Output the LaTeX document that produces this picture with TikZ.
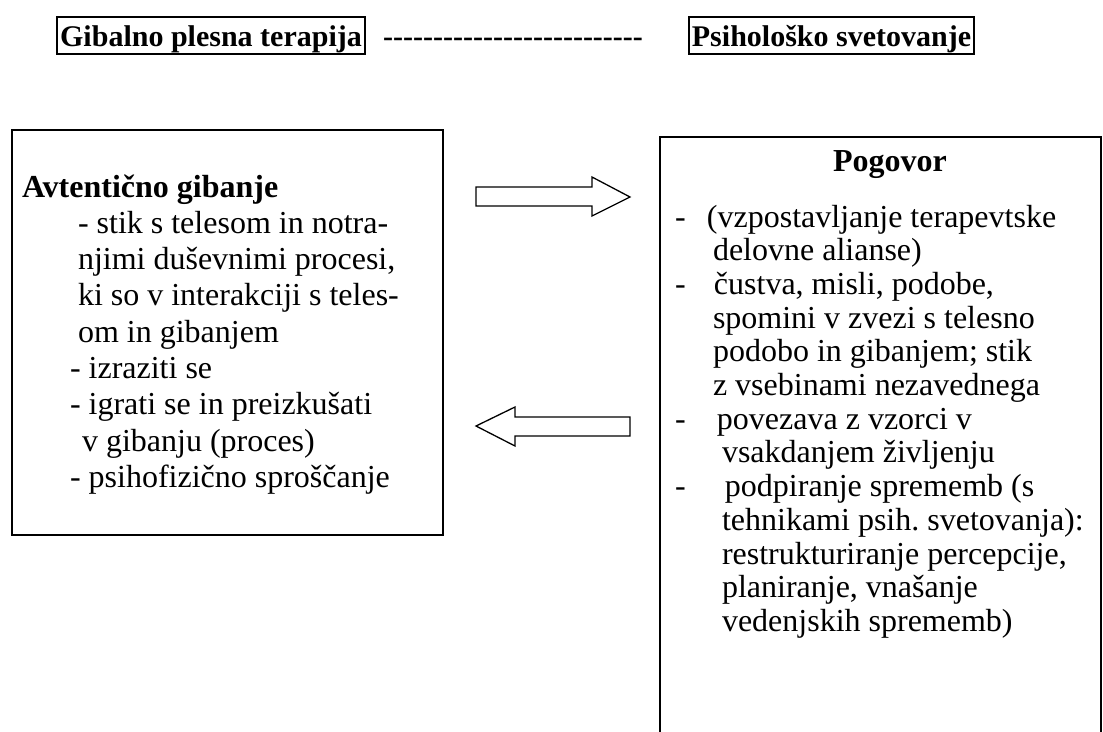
\documentclass[tikz,border=0pt]{standalone}
\usepackage{fontspec}
\setmainfont{Liberation Serif}
\frenchspacing
\begin{document}
\begin{tikzpicture}[x=1pt,y=-1pt,
  hdr/.style={draw, line width=2pt, font=\fontsize{30}{36}\selectfont\bfseries,
    text height=29.7pt, text depth=7.3pt, inner ysep=0pt, inner xsep=3pt, anchor=base},
  hdrtext/.style={font=\fontsize{30}{36}\selectfont\bfseries, inner sep=0pt, anchor=base west},
  body/.style={font=\fontsize{32}{36}\selectfont, anchor=base west, inner sep=0pt, outer sep=0pt},
  bodyhead/.style={body, font=\fontsize{32}{36}\selectfont\bfseries},
  frame/.style={line width=2pt},
  blockarrow/.style={draw, line width=1.3pt, fill=white, line join=miter}]
\useasboundingbox[fill=white] (0,0) rectangle (1103,731);

% heading line
\node[hdr] (gpt) at (211,46.7) {Gibalno plesna terapija};
\node[hdrtext] (dashes) at (383,46.7) {-{}-{}-{}-{}-{}-{}-{}-{}-{}-{}-{}-{}-{}-{}-{}-{}-{}-{}-{}-{}-{}-{}-{}-{}-{}-{}};
\node[hdr] (ps) at (831.5,46.7) {Psihološko svetovanje};

% left box: authentic movement
\node[draw, frame, minimum width=431pt, minimum height=405pt, inner sep=0pt, outer sep=0pt,
  anchor=north west] (lbox) at (12,130) {};
\node[bodyhead] (l1) at (22,197) {Avtentično gibanje};
\node[body] (l2) at (78,233.3) {- stik s telesom in notra-};
\node[body] (l3) at (78,269.6) {njimi duševnimi procesi,};
\node[body] (l4) at (78,305.9) {ki so v interakciji s teles-};
\node[body] (l5) at (78,342.2) {om in gibanjem};
\node[body] (l6) at (70,378.5) {- izraziti se};
\node[body] (l7) at (70,414.8) {- igrati se in preizkušati};
\node[body] (l8) at (82,451.1) {v gibanju (proces)};
\node[body] (l9) at (70,487.4) {- psihofizično sproščanje};

% right box: conversation (open at the bottom)
\draw[frame] (660,745) -- (660,137) -- (1101,137) -- (1101,745);
\node[bodyhead] (r0) at (833,171.7) {Pogovor};
\node[body] (r1) at (675,227) {\makebox[32pt][l]{-}(vzpostavljanje terapevtske};
\node[body] (r2) at (713,260.7) {delovne alianse)};
\node[body] (r3) at (675,294.4) {\makebox[39pt][l]{-}čustva, misli, podobe,};
\node[body] (r4) at (713,328.1) {spomini v zvezi s telesno};
\node[body] (r5) at (713,361.8) {podobo in gibanjem; stik};
\node[body] (r6) at (713,395.5) {z vsebinami nezavednega};
\node[body] (r7) at (675,429.2) {\makebox[42pt][l]{-}povezava z vzorci v};
\node[body] (r8) at (722,462.9) {vsakdanjem življenju};
\node[body] (r9) at (675,496.6) {\makebox[50pt][l]{-}podpiranje sprememb (s};
\node[body] (r10) at (722,530.3) {tehnikami psih. svetovanja):};
\node[body] (r11) at (722,564) {restrukturiranje percepcije,};
\node[body] (r12) at (722,597.7) {planiranje, vnašanje};
\node[body] (r13) at (722,631.4) {vedenjskih sprememb)};

% block arrows between the boxes
\draw[blockarrow] (476,187) -- (592,187) -- (592,177) -- (630,197) -- (592,216)
  -- (592,206) -- (476,206) -- cycle;
\draw[blockarrow] (630,417) -- (515,417) -- (515,407) -- (476,426) -- (515,446)
  -- (515,436) -- (630,436) -- cycle;
\end{tikzpicture}
\end{document}
